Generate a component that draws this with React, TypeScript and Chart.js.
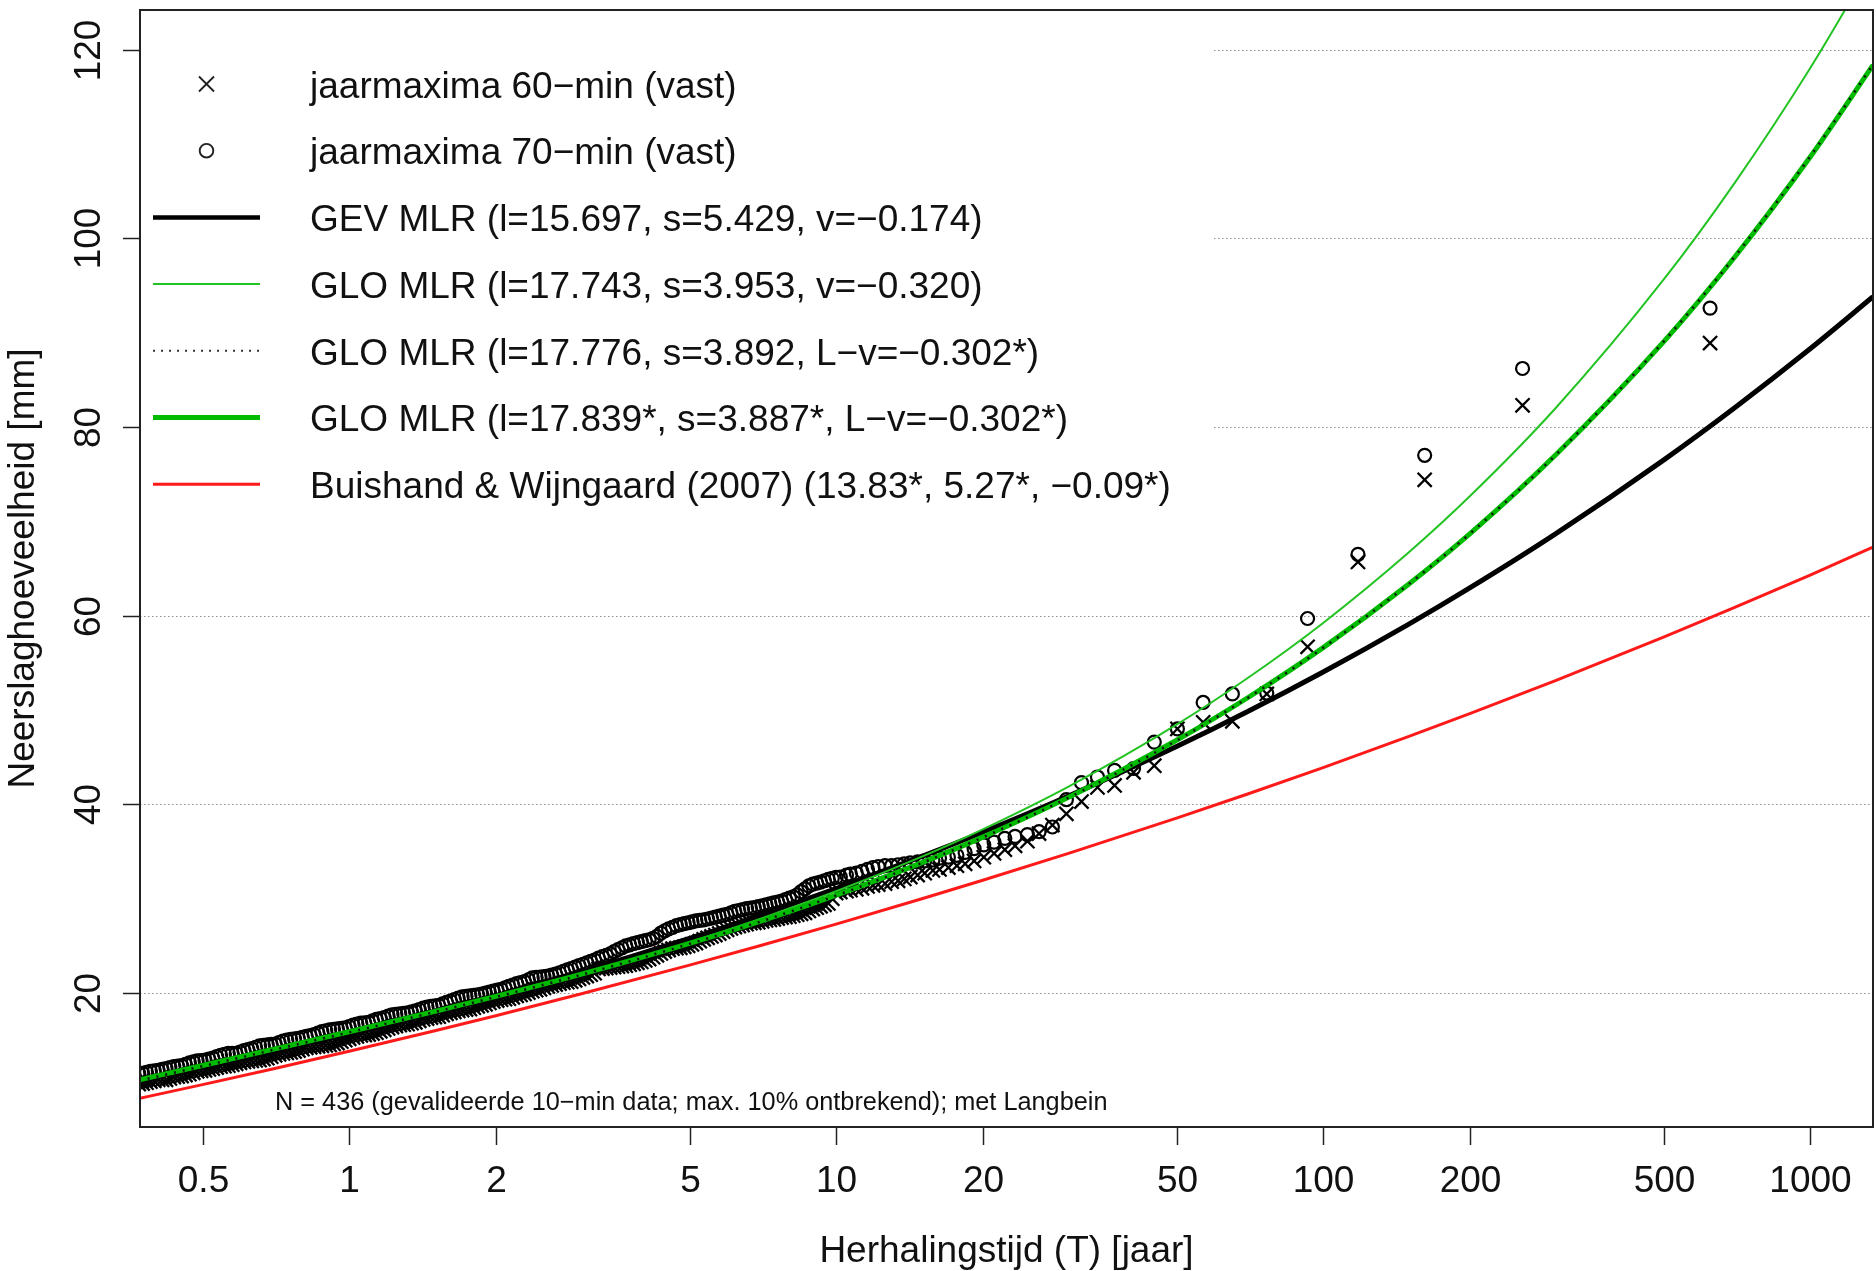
import React, { useEffect, useRef } from 'react';
import { Chart, registerables } from 'chart.js';

Chart.register(...registerables);

// ---------- data ----------
// return periods (years) of the plotted annual maxima (shared by both series)
// low part of the record (dense band)
const T_LOW = [
  0.3631, 0.3698, 0.3767, 0.3837, 0.3908, 0.3981, 0.4055, 0.4130, 0.4207, 0.4285,
  0.4365, 0.4446, 0.4529, 0.4613, 0.4699, 0.4786, 0.4875, 0.4966, 0.5058, 0.5152,
  0.5248, 0.5346, 0.5445, 0.5546, 0.5649, 0.5754, 0.5861, 0.5970, 0.6081, 0.6194,
  0.6310, 0.6427, 0.6546, 0.6668, 0.6792, 0.6918, 0.7047, 0.7178, 0.7311, 0.7447,
  0.7586, 0.7727, 0.7870, 0.8017, 0.8166, 0.8318, 0.8472, 0.8630, 0.8790, 0.8954,
  0.9120, 0.9290, 0.9462, 0.9638, 0.9817, 1.0000, 1.0186, 1.0375, 1.0568, 1.0765,
  1.0965, 1.1169, 1.1376, 1.1588, 1.1803, 1.2023, 1.2246, 1.2474, 1.2706, 1.2942,
  1.3183, 1.3428, 1.3677, 1.3932, 1.4191, 1.4454, 1.4723, 1.4997, 1.5276, 1.5560,
  1.5849, 1.6144, 1.6444, 1.6749, 1.7061, 1.7378, 1.7701, 1.8030, 1.8365, 1.8707,
  1.9055, 1.9409, 1.9770, 2.0137, 2.0512, 2.0893, 2.1281, 2.1677, 2.2080, 2.2491,
  2.2909, 2.3335, 2.3768, 2.4210, 2.4660, 2.5119, 2.5586, 2.6062, 2.6546, 2.7040,
  2.7542, 2.8054, 2.8576, 2.9107, 2.9648, 3.0200, 3.0761, 3.1333, 3.1916,
];
const MAX60_LOW = [
  10.3, 10.35, 10.4, 10.5, 10.6, 10.7, 10.8, 10.8, 10.8, 10.95,
  11.1, 11.15, 11.2, 11.3, 11.4, 11.55, 11.7, 11.75, 11.8, 11.9,
  12.0, 12.1, 12.2, 12.25, 12.3, 12.4, 12.5, 12.6, 12.7, 12.75,
  12.8, 12.85, 12.9, 13.0, 13.1, 13.25, 13.4, 13.5, 13.6, 13.65,
  13.7, 13.8, 13.9, 14.05, 14.2, 14.25, 14.3, 14.35, 14.4, 14.45,
  14.5, 14.6, 14.7, 14.85, 15.0, 15.15, 15.3, 15.4, 15.5, 15.55,
  15.6, 15.7, 15.8, 15.95, 16.1, 16.25, 16.4, 16.5, 16.6, 16.65,
  16.7, 16.8, 16.9, 17.05, 17.2, 17.3, 17.4, 17.45, 17.5, 17.65,
  17.8, 17.9, 18.0, 18.1, 18.2, 18.25, 18.3, 18.45, 18.6, 18.7,
  18.8, 18.95, 19.1, 19.2, 19.3, 19.35, 19.4, 19.55, 19.7, 19.8,
  19.9, 20.05, 20.2, 20.3, 20.4, 20.55, 20.7, 20.8, 20.9, 21.0,
  21.1, 21.15, 21.2, 21.35, 21.5, 21.65, 21.8, 21.95, 22.1,
];
const MAX70_LOW = [
  11.4, 11.45, 11.5, 11.6, 11.7, 11.75, 11.8, 11.9, 12.0, 12.1,
  12.2, 12.25, 12.3, 12.45, 12.6, 12.7, 12.8, 12.85, 12.9, 13.0,
  13.1, 13.25, 13.4, 13.5, 13.6, 13.6, 13.6, 13.75, 13.9, 14.0,
  14.1, 14.25, 14.4, 14.45, 14.5, 14.55, 14.6, 14.75, 14.9, 15.0,
  15.1, 15.15, 15.2, 15.3, 15.4, 15.5, 15.6, 15.75, 15.9, 16.0,
  16.1, 16.15, 16.2, 16.25, 16.3, 16.45, 16.6, 16.7, 16.8, 16.85,
  16.9, 17.05, 17.2, 17.3, 17.4, 17.55, 17.7, 17.75, 17.8, 17.85,
  17.9, 18.0, 18.1, 18.25, 18.4, 18.5, 18.6, 18.65, 18.7, 18.85,
  19.0, 19.15, 19.3, 19.45, 19.6, 19.65, 19.7, 19.75, 19.8, 19.9,
  20.0, 20.1, 20.2, 20.3, 20.4, 20.55, 20.7, 20.85, 21.0, 21.1,
  21.2, 21.4, 21.6, 21.65, 21.7, 21.75, 21.8, 21.9, 22.0, 22.15,
  22.3, 22.45, 22.6, 22.75, 22.9, 23.05, 23.2, 23.35, 23.5,
];

// middle part of the record
const T_MID = [
  3.2509, 3.3113, 3.3729, 3.4356, 3.4995, 3.5645, 3.6308, 3.6983, 3.7670, 3.8371,
  3.9084, 3.9811, 4.0551, 4.1305, 4.2073, 4.2855, 4.3652, 4.4463, 4.5290, 4.6132,
  4.6989, 4.7863, 4.8753, 4.9659, 5.0582, 5.1523, 5.2481, 5.3456, 5.4450, 5.5463,
  5.6494, 5.7544, 5.8614, 5.9704, 6.0814, 6.1944, 6.3096, 6.4269, 6.5464, 6.6681,
  6.7920, 6.9183, 7.0469, 7.1779, 7.3114, 7.4473, 7.5858, 7.7268, 7.8705, 8.0168,
  8.1658, 8.3176, 8.4723, 8.6298, 8.7902, 8.9536, 9.1201, 9.2897, 9.4624, 9.6383,
  9.8175, 10.0,
];
const MAX60_MID = [
  22.55, 22.6, 22.65, 22.7, 22.75, 22.8, 22.85, 22.9, 23.0, 23.1,
  23.2, 23.3, 23.45, 23.6, 23.8, 24.0, 24.2, 24.4, 24.55, 24.7,
  24.75, 24.8, 24.9, 25.0, 25.15, 25.3, 25.5, 25.7, 25.85, 26.0,
  26.15, 26.3, 26.5, 26.7, 26.85, 27.0, 27.1, 27.2, 27.3, 27.4,
  27.45, 27.5, 27.6, 27.7, 27.75, 27.8, 27.9, 28.0, 28.05, 28.1,
  28.2, 28.3, 28.4, 28.5, 28.7, 28.9, 29.05, 29.2, 29.35, 29.5,
  30.0, 30.6,
];
const MAX70_MID = [
  23.7, 23.85, 24.0, 24.15, 24.4, 24.6, 24.8, 25.0, 25.1, 25.25,
  25.35, 25.45, 25.55, 25.65, 25.8, 26.0, 26.35, 26.6, 26.8, 26.95,
  27.15, 27.25, 27.35, 27.45, 27.55, 27.65, 27.7, 27.75, 27.85, 27.95,
  28.05, 28.15, 28.25, 28.35, 28.5, 28.65, 28.75, 28.85, 28.95, 29.0,
  29.05, 29.15, 29.25, 29.35, 29.45, 29.55, 29.65, 29.75, 29.9, 30.05,
  30.2, 30.4, 30.75, 31.05, 31.35, 31.55, 31.65, 31.75, 31.9, 32.05,
  32.15, 32.25,
];

// largest 43 values of the record
const T_HIGH = [
  10.2, 10.5, 10.7, 11.0, 11.3, 11.6, 11.9, 12.2, 12.6, 13.0,
  13.4, 13.8, 14.2, 14.7, 15.2, 15.8, 16.3, 17.0, 17.7, 18.4,
  19.2, 20.1, 21.1, 22.2, 23.3, 24.7, 26.1, 27.8, 29.7, 31.9,
  34.4, 37.3, 40.8, 45.0, 50.2, 56.7, 65.1, 76.6, 92.9, 117.9,
  161.6, 256.7, 623,
];
const MAX60_HIGH = [
  30.7, 30.8, 30.9, 31.0, 31.1, 31.3, 31.4, 31.5, 31.6, 31.8,
  31.9, 32.1, 32.3, 32.5, 32.7, 33.0, 33.1, 33.3, 33.5, 33.7,
  34.0, 34.4, 34.8, 35.2, 35.6, 36.1, 36.9, 37.8, 39.0, 40.3,
  41.8, 42.0, 43.4, 44.1, 48.0, 48.7, 48.8, 51.7, 56.7, 65.7,
  74.4, 82.3, 88.9,
];
const MAX70_HIGH = [
  32.3, 32.5, 32.6, 32.7, 32.9, 33.1, 33.3, 33.4, 33.5, 33.5,
  33.6, 33.7, 33.8, 33.9, 34.0, 34.1, 34.3, 34.4, 34.6, 34.9,
  35.3, 35.7, 36.0, 36.4, 36.6, 36.8, 37.1, 37.6, 40.5, 42.3,
  42.9, 43.6, 43.8, 46.6, 48.0, 50.8, 51.7, 51.8, 59.7, 66.5,
  77.0, 86.2, 92.6,
];

// fitted curves, sampled at these return periods
const T_CURVE = [0.37, 0.5, 0.7, 1, 1.5, 2, 3, 5, 7, 10, 15, 20, 30, 50, 70, 100, 150, 200, 300, 500, 700, 1000, 1346];
const GEV_MLR = [10.74, 12.15, 13.82, 15.70, 17.98, 19.70, 22.27, 25.78, 28.27, 31.08, 34.48, 37.04, 40.88, 46.13, 49.84, 54.03, 59.11, 62.94, 68.67, 76.49, 82.04, 88.29, 93.80];
const GLO_MLR = [10.71, 12.21, 13.93, 15.78, 17.96, 19.58, 22.01, 25.40, 27.89, 30.79, 34.46, 37.35, 41.88, 48.45, 53.39, 59.23, 66.72, 72.65, 81.99, 95.61, 105.88, 118.03, 129.27];
const GLO_MLR_LV = [10.71, 12.25, 13.98, 15.83, 17.99, 19.58, 21.94, 25.21, 27.58, 30.33, 33.79, 36.49, 40.70, 46.76, 51.28, 56.59, 63.36, 68.68, 77.01, 89.05, 98.06, 108.67, 118.42];
const GLO_FIXED = [10.78, 12.32, 14.05, 15.90, 18.05, 19.64, 22.00, 25.26, 27.63, 30.38, 33.83, 36.53, 40.74, 46.79, 51.30, 56.61, 63.36, 68.67, 77.03, 89.02, 98.02, 108.62, 118.36];
const BUISHAND = [8.82, 10.29, 11.98, 13.83, 16.01, 17.60, 19.92, 22.96, 25.04, 27.31, 29.99, 31.95, 34.80, 38.54, 41.10, 43.90, 47.20, 49.61, 53.12, 57.72, 60.87, 64.31, 67.27];

const X_TICKS = [0.5, 1, 2, 5, 10, 20, 50, 100, 200, 500, 1000];
const Y_TICKS = [20, 40, 60, 80, 100, 120];

const LEGEND_LABELS = [
  'jaarmaxima 60−min (vast)',
  'jaarmaxima 70−min (vast)',
  'GEV MLR (l=15.697, s=5.429, v=−0.174)',
  'GLO MLR (l=17.743, s=3.953, v=−0.320)',
  'GLO MLR (l=17.776, s=3.892, L−v=−0.302*)',
  'GLO MLR (l=17.839*, s=3.887*, L−v=−0.302*)',
  'Buishand & Wijngaard (2007) (13.83*, 5.27*, −0.09*)',
];

const X_TITLE = 'Herhalingstijd (T) [jaar]';
const Y_TITLE = 'Neerslaghoeveelheid [mm]';
const NOTE = 'N = 436 (gevalideerde 10−min data; max. 10% ontbrekend); met Langbein';

// ---------- styles ----------
const FONT = '"Liberation Sans", Arial, Helvetica, sans-serif';
const INK = '#111111';
const GREEN_THIN = '#22c322';
const GREEN_THICK = '#00bb00';
const RED = '#ff1a1a';

const T_ALL = [...T_LOW, ...T_MID, ...T_HIGH];
const MAX60_ALL = [...MAX60_LOW, ...MAX60_MID, ...MAX60_HIGH];
const MAX70_ALL = [...MAX70_LOW, ...MAX70_MID, ...MAX70_HIGH];

const pts = (ys: number[]) => T_ALL.map((t, i) => ({ x: t, y: ys[i] }));
const crv = (ys: number[]) => T_CURVE.map((t, i) => ({ x: t, y: ys[i] }));

function drawCross(ctx: CanvasRenderingContext2D, x: number, y: number, h: number) {
  ctx.beginPath();
  ctx.moveTo(x - h, y - h);
  ctx.lineTo(x + h, y + h);
  ctx.moveTo(x - h, y + h);
  ctx.lineTo(x + h, y - h);
  ctx.stroke();
}

const decorPlugin = {
  id: 'decor',
  beforeDatasetsDraw(chart: any) {
    const { ctx, chartArea: a, scales } = chart;
    const y = scales.y;
    const legendRight = 1214;
    const legendBottom = 517;
    ctx.save();
    ctx.strokeStyle = '#8f8f8f';
    ctx.lineWidth = 1.2;
    ctx.setLineDash([1.5, 2.5]);
    for (const v of Y_TICKS) {
      const py = Math.round(y.getPixelForValue(v)) + 0.5;
      const x0 = py < legendBottom ? legendRight : a.left;
      ctx.beginPath();
      ctx.moveTo(x0, py);
      ctx.lineTo(a.right, py);
      ctx.stroke();
    }
    ctx.restore();
  },
  afterDraw(chart: any) {
    const { ctx, chartArea: a, scales } = chart;
    const xs = scales.x;
    const ys = scales.y;
    ctx.save();
    // box
    ctx.strokeStyle = '#222';
    ctx.lineWidth = 2;
    ctx.setLineDash([]);
    ctx.strokeRect(a.left, a.top, a.right - a.left, a.bottom - a.top);

    ctx.fillStyle = INK;
    ctx.strokeStyle = '#222';
    ctx.lineWidth = 1.5;
    ctx.font = `37px ${FONT}`;

    // x ticks
    ctx.textAlign = 'center';
    ctx.textBaseline = 'alphabetic';
    for (const v of X_TICKS) {
      const px = Math.round(xs.getPixelForValue(v)) + 0.5;
      ctx.beginPath();
      ctx.moveTo(px, a.bottom);
      ctx.lineTo(px, a.bottom + 18);
      ctx.stroke();
      ctx.fillText(String(v), px, a.bottom + 65);
    }
    // y ticks
    for (const v of Y_TICKS) {
      const py = Math.round(ys.getPixelForValue(v)) + 0.5;
      ctx.beginPath();
      ctx.moveTo(a.left - 17, py);
      ctx.lineTo(a.left, py);
      ctx.stroke();
      ctx.save();
      ctx.translate(a.left - 40, py);
      ctx.rotate(-Math.PI / 2);
      ctx.textAlign = 'center';
      ctx.fillText(String(v), 0, 0);
      ctx.restore();
    }
    // axis titles
    ctx.textAlign = 'center';
    ctx.fillText(X_TITLE, (a.left + a.right) / 2, 1262);
    ctx.save();
    ctx.translate(34, (a.top + a.bottom) / 2);
    ctx.rotate(-Math.PI / 2);
    ctx.fillText(Y_TITLE, 0, 0);
    ctx.restore();

    // note
    ctx.font = `25.3px ${FONT}`;
    ctx.textAlign = 'left';
    ctx.fillText(NOTE, 275, 1110);

    // legend
    ctx.font = `37px ${FONT}`;
    const x0 = 153, x1 = 260, xm = 206.5, tx = 310;
    const lineStyles: any[] = [
      null, null,
      { c: '#000', w: 4.5, d: [] },
      { c: GREEN_THIN, w: 2, d: [] },
      { c: '#333', w: 2, d: [2, 6] },
      { c: GREEN_THICK, w: 5, d: [] },
      { c: RED, w: 3, d: [] },
    ];
    LEGEND_LABELS.forEach((label, k) => {
      const cy = 84 + 66.7 * k;
      ctx.save();
      ctx.setLineDash([]);
      ctx.lineCap = 'butt';
      if (k === 0) {
        ctx.strokeStyle = '#222';
        ctx.lineWidth = 1.9;
        drawCross(ctx, xm, cy, 7.5);
      } else if (k === 1) {
        ctx.strokeStyle = '#222';
        ctx.lineWidth = 1.9;
        ctx.beginPath();
        ctx.arc(xm, cy, 6.8, 0, Math.PI * 2);
        ctx.stroke();
      } else {
        const s = lineStyles[k];
        ctx.strokeStyle = s.c;
        ctx.lineWidth = s.w;
        ctx.setLineDash(s.d);
        ctx.beginPath();
        ctx.moveTo(x0, cy);
        ctx.lineTo(x1, cy);
        ctx.stroke();
      }
      ctx.restore();
      ctx.fillStyle = INK;
      ctx.textAlign = 'left';
      ctx.fillText(label, tx, cy + 13.7);
    });
    ctx.restore();
  },
};

export default function App() {
  const ref = useRef<HTMLCanvasElement>(null);

  useEffect(() => {
    if (!ref.current) return;
    const line = (label: string, data: number[], color: string, width: number, order: number, dash: number[] = []) => ({
      label,
      data: crv(data),
      showLine: true,
      borderColor: color,
      borderWidth: width,
      borderDash: dash,
      pointRadius: 0,
      cubicInterpolationMode: 'monotone',
      order,
      clip: 0,
    });
    const chart = new Chart(ref.current, {
      type: 'scatter',
      data: {
        datasets: [
          line(LEGEND_LABELS[4], GLO_MLR_LV, '#111', 2.5, 1, [2, 7]),
          line(LEGEND_LABELS[5], GLO_FIXED, GREEN_THICK, 5, 2),
          line(LEGEND_LABELS[3], GLO_MLR, GREEN_THIN, 2, 3),
          line(LEGEND_LABELS[2], GEV_MLR, '#000', 5, 4),
          line(LEGEND_LABELS[6], BUISHAND, RED, 3, 5),
          {
            label: LEGEND_LABELS[0],
            data: pts(MAX60_ALL),
            showLine: false,
            pointStyle: 'crossRot',
            pointRadius: 10,
            pointBorderWidth: 2.3,
            pointBorderColor: '#000',
            pointBackgroundColor: 'transparent',
            order: 6,
            clip: 0,
          },
          {
            label: LEGEND_LABELS[1],
            data: pts(MAX70_ALL),
            showLine: false,
            pointStyle: 'circle',
            pointRadius: 6.5,
            pointBorderWidth: 2.2,
            pointBorderColor: '#000',
            pointBackgroundColor: 'transparent',
            order: 7,
            clip: 0,
          },
        ] as any,
      },
      options: {
        animation: false,
        responsive: false,
        events: [],
        layout: { autoPadding: false, padding: { left: 140, right: 3, top: 10, bottom: 144 } },
        plugins: {
          legend: { display: false },
          title: { display: false },
          tooltip: { enabled: false },
        },
        scales: {
          x: { type: 'logarithmic', min: 0.372, max: 1346, display: false },
          y: { type: 'linear', min: 5.8, max: 124.2, display: false },
        },
      } as any,
      plugins: [decorPlugin],
    });
    return () => chart.destroy();
  }, []);

  return (
    <div style={{ position: 'absolute', left: 0, top: 0, width: 1876, height: 1271, background: '#fff' }}>
      <canvas ref={ref} width={1876} height={1271} style={{ display: 'block', width: 1876, height: 1271 }} />
    </div>
  );
}
